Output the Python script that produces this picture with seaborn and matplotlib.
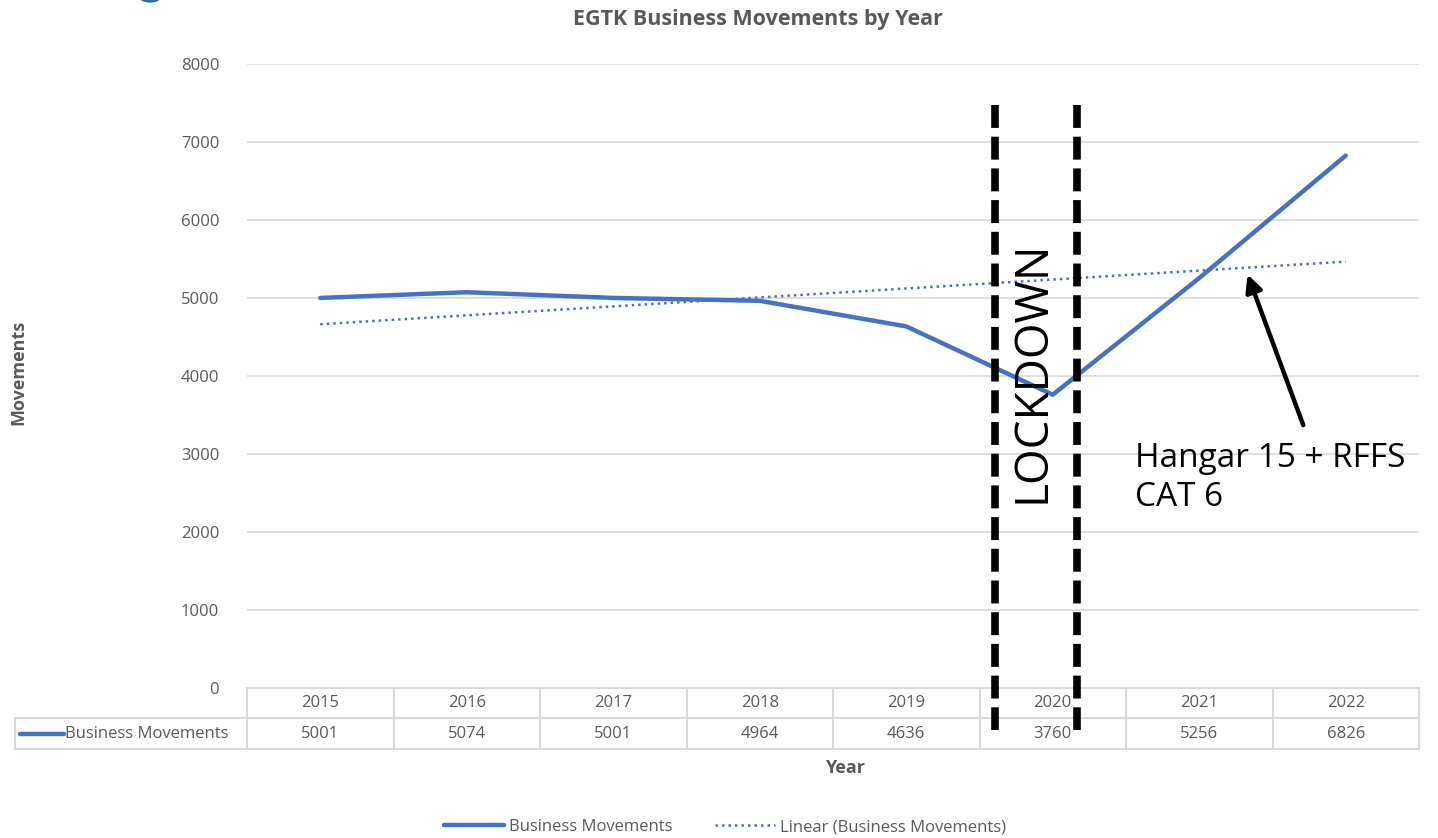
import numpy as np
import pandas as pd
import matplotlib
matplotlib.use("Agg")
import matplotlib.pyplot as plt
import seaborn as sns
from matplotlib.lines import Line2D
from matplotlib.patches import Ellipse

years = ["2015", "2016", "2017", "2018", "2019", "2020", "2021", "2022"]
movements = [5001, 5074, 5001, 4964, 4636, 3760, 5256, 6826]
y_ticks = [0, 1000, 2000, 3000, 4000, 5000, 6000, 7000, 8000]
series_name = "Business Movements"
trend_name = "Linear (Business Movements)"
title = "EGTK Business Movements by Year"

sns.set_theme(style="white")
plt.rcParams['font.family'] = ['Open Sans', 'DejaVu Sans']

BLUE = "#4472C4"
GRAY = "#595959"
GRID = "#D9D9D9"
FS = 12

df = pd.DataFrame({"idx": np.arange(len(years)), "year": years, "value": movements})

fig = plt.figure(figsize=(14.38, 8.38), dpi=100)
ax = fig.add_axes([247/1438, 1-688/838, (1419-247)/1438, (688-64)/838])

sns.lineplot(data=df, x="idx", y="value", ax=ax, color=BLUE, linewidth=3.2,
             solid_capstyle="round", label=series_name, legend=False)
sns.regplot(data=df, x="idx", y="value", ax=ax, scatter=False, ci=None,
            line_kws=dict(color=BLUE, linewidth=1.8, linestyle=(0, (1, 1.6))))

ax.set_xlim(-0.5, len(years) - 0.5)
ax.set_ylim(0, 8000)
ax.set_yticks(y_ticks)
ax.set_yticklabels([str(t) for t in y_ticks], color=GRAY, fontsize=FS)
ax.tick_params(axis="y", length=0, pad=20)
ax.set_xticks([])
ax.set_xlabel("")
ax.set_ylabel("")
for s in ax.spines.values():
    s.set_visible(False)
ax.yaxis.grid(True, color=GRID, linewidth=1.2)
ax.set_axisbelow(True)

# Data table below the axes
trans = ax.get_xaxis_transform()
n = len(years)
row_lines = [0.0, -30/624, -61/624]
label_left = (15 - 247) / 146.5 - 0.5
tbl_kw = dict(color=GRID, linewidth=1.5, transform=trans, clip_on=False)
ax.plot([-0.5, n - 0.5], [row_lines[0]] * 2, **tbl_kw)
ax.plot([label_left, n - 0.5], [row_lines[1]] * 2, **tbl_kw)
ax.plot([label_left, n - 0.5], [row_lines[2]] * 2, **tbl_kw)
for i in range(n + 1):
    ax.plot([i - 0.5, i - 0.5], [row_lines[0], row_lines[2]], **tbl_kw)
ax.plot([label_left, label_left], [row_lines[1], row_lines[2]], **tbl_kw)
for i, (yr, v) in enumerate(zip(years, movements)):
    ax.text(i, -15/624, yr, ha="center", va="center", color=GRAY, fontsize=FS,
            transform=trans, clip_on=False)
    ax.text(i, -46/624, str(v), ha="center", va="center", color=GRAY, fontsize=FS,
            transform=trans, clip_on=False)
lx0 = (20 - 247) / 146.5 - 0.5
lx1 = (64 - 247) / 146.5 - 0.5
ax.plot([lx0, lx1], [-46/624] * 2, color=BLUE, linewidth=3.2, solid_capstyle="round",
        transform=trans, clip_on=False)
ax.text(lx1 + 0.01, -46/624, series_name, ha="left", va="center", color=GRAY,
        fontsize=FS, transform=trans, clip_on=False)

# Lockdown dashed lines
for xl in [4.606, 5.166]:
    ax.plot([xl, xl], [7474, -540], color="black", linewidth=5.5,
            linestyle=(0, (3.0, 1.15)), clip_on=False, solid_capstyle="butt",
            dash_capstyle="butt")
ax.text(4.865, 4050, "LOCKDOWN", rotation=90, ha="center", va="center",
        fontsize=33, color="black")

# Annotation arrow + text
ax.annotate("", xy=(6.33, 5300), xytext=(6.71, 3370),
            arrowprops=dict(arrowstyle="-|>", color="black", lw=3.2,
                            mutation_scale=25, shrinkA=0, shrinkB=0))
ax.text(5.56, 3150, "Hangar 15 + RFFS\nCAT 6", ha="left", va="top", fontsize=24,
        color="black", linespacing=1.22)

# cut-off logo fragment at top-left
fig.patches.append(Ellipse((150/1438, 1 + 4/838), 22/1438, 12/838,
                           transform=fig.transFigure, color="#2E6DA4", zorder=5))

# Titles / labels
fig.text(758/1438, 1-20/838, title, ha="center", va="center", fontsize=15.5,
         fontweight="bold", color=GRAY)
fig.text(18/1438, 1-372/838, "Movements", rotation=90, ha="center", va="center",
         fontsize=13, fontweight="bold", color=GRAY)
fig.text(845/1438, 1-768/838, "Year", ha="center", va="center",
         fontsize=13, fontweight="bold", color=GRAY)

handles = [Line2D([], [], color=BLUE, linewidth=3.2, solid_capstyle="round"),
           Line2D([], [], color=BLUE, linewidth=1.8, linestyle=(0, (1, 1.6)))]
fig.legend(handles, [series_name, trend_name], loc="center", ncol=2,
           bbox_to_anchor=(725/1438, 1-827/838), frameon=False, fontsize=FS,
           labelcolor=GRAY, handlelength=3.6, columnspacing=2.5, handletextpad=0.3)

fig.savefig("out.png", dpi=100)
